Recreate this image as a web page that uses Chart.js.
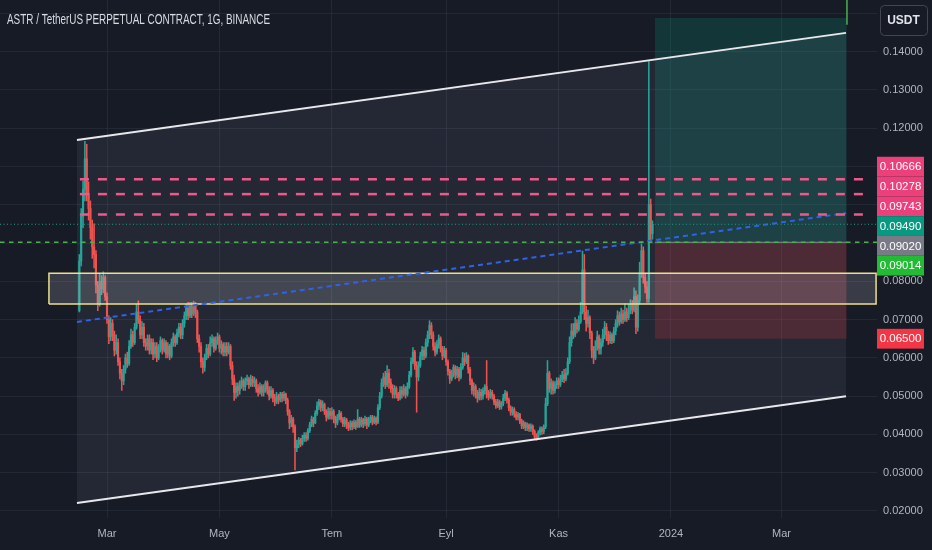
<!DOCTYPE html>
<html>
<head>
<meta charset="utf-8">
<script src="https://cdn.jsdelivr.net/npm/chart.js@4.4.0/dist/chart.umd.min.js"></script>
<style>
html,body{margin:0;padding:0;background:#171b26;overflow:hidden;}
#wrap{width:932px;height:550px;position:relative;}
</style>
</head>
<body>
<div id="wrap"><canvas id="c" width="932" height="550"></canvas></div>
<script>
// ---------------- DATA ----------------
const chartTitle = 'ASTR / TetherUS PERPETUAL CONTRACT, 1G, BINANCE';
const quoteLabel = 'USDT';
// daily candles, day 0 = 1 Mar 2023
const firstDay = -15;
const firstOpen = 0.0723;
const closes = [
 .0853,.0970,.1040,.1120,.1030,.0990,.0940,.0890,.0870,.0790,
 .0740,.0800,.0780,.0810,.0760,.0700,.0655,.0690,.0660,.0620,
 .0640,.0590,.0560,.0540,.0570,.0600,.0585,.0630,.0660,.0640,
 .0680,.0720,.0700,.0660,.0680,.0640,.0630,.0650,.0620,.0640,
 .0610,.0630,.0600,.0625,.0645,.0620,.0640,.0610,.0630,.0605,
 .0640,.0655,.0640,.0665,.0680,.0660,.0690,.0710,.0730,.0710,
 .0735,.0715,.0735,.0720,.0650,.0630,.0590,.0575,.0600,.0625,
 .0610,.0640,.0650,.0625,.0645,.0655,.0625,.0635,.0615,.0630,
 .0615,.0630,.0580,.0545,.0510,.0525,.0515,.0530,.0540,.0525,
 .0540,.0545,.0530,.0545,.0535,.0540,.0520,.0510,.0525,.0510,
 .0520,.0535,.0515,.0500,.0515,.0495,.0485,.0500,.0490,.0505,
 .0495,.0505,.0490,.0460,.0430,.0440,.0420,.0365,.0375,.0385,
 .0375,.0390,.0398,.0390,.0410,.0425,.0440,.0430,.0455,.0475,
 .0485,.0470,.0478,.0460,.0445,.0460,.0450,.0460,.0440,.0430,
 .0445,.0455,.0440,.0428,.0438,.0425,.0418,.0430,.0420,.0432,
 .0420,.0440,.0425,.0438,.0428,.0440,.0425,.0438,.0445,.0432,
 .0442,.0432,.0470,.0500,.0535,.0550,.0530,.0560,.0535,.0520,
 .0505,.0520,.0505,.0495,.0515,.0505,.0520,.0505,.0525,.0555,
 .0590,.0615,.0580,.0550,.0580,.0605,.0620,.0605,.0640,.0660,
 .0685,.0660,.0630,.0615,.0635,.0650,.0625,.0605,.0620,.0590,
 .0565,.0545,.0560,.0575,.0555,.0570,.0550,.0575,.0600,.0590,
 .0605,.0570,.0540,.0515,.0525,.0505,.0495,.0510,.0500,.0515,
 .0525,.0505,.0498,.0510,.0500,.0485,.0475,.0485,.0472,.0480,
 .0495,.0508,.0490,.0470,.0458,.0465,.0452,.0445,.0452,.0435,
 .0422,.0430,.0418,.0425,.0415,.0422,.0408,.0395,.0392,.0405,
 .0415,.0408,.0420,.0480,.0560,.0520,.0535,.0515,.0530,.0540,
 .0530,.0545,.0555,.0545,.0560,.0590,.0640,.0670,.0660,.0690,
 .0675,.0695,.0720,.0830,.0720,.0690,.0705,.0665,.0620,.0600,
 .0630,.0655,.0625,.0640,.0660,.0680,.0660,.0645,.0660,.0645,
 .0670,.0690,.0710,.0695,.0715,.0700,.0720,.0705,.0725,.0740,
 .0725,.0760,.0680,.0750,.0820,.0880,.0810,.0785,.0755,.1000,
 .0925,.0949
];
const highs = [
 .0870,.0990,.1062,.1166,.1158,.1060,.1010,.0960,.0950,.0880,
 .0800,.0820,.0815,.0825,.0815,.0770,.0710,.0705,.0700,.0670,
 .0660,.0650,.0600,.0570,.0580,.0610,.0615,.0645,.0675,.0670,
 .0690,.0740,.0749,.0710,.0695,.0690,.0650,.0660,.0660,.0650,
 .0650,.0640,.0640,.0635,.0655,.0650,.0650,.0645,.0640,.0635,
 .0650,.0665,.0660,.0675,.0690,.0690,.0700,.0720,.0741,.0745,
 .0745,.0745,.0748,.0745,.0725,.0660,.0640,.0600,.0610,.0635,
 .0635,.0655,.0660,.0655,.0655,.0665,.0660,.0645,.0640,.0640,
 .0640,.0640,.0635,.0590,.0555,.0535,.0535,.0540,.0550,.0545,
 .0548,.0555,.0550,.0555,.0552,.0550,.0545,.0530,.0535,.0530,
 .0530,.0540,.0540,.0525,.0525,.0520,.0505,.0510,.0505,.0510,
 .0510,.0512,.0508,.0495,.0465,.0450,.0445,.0425,.0385,.0392,
 .0390,.0398,.0405,.0405,.0415,.0432,.0448,.0445,.0462,.0485,
 .0492,.0490,.0488,.0482,.0465,.0470,.0468,.0470,.0465,.0448,
 .0452,.0463,.0460,.0445,.0445,.0442,.0432,.0436,.0435,.0438,
 .0436,.0465,.0445,.0445,.0442,.0448,.0445,.0445,.0450,.0450,
 .0448,.0446,.0478,.0510,.0545,.0560,.0565,.0580,.0570,.0545,
 .0530,.0528,.0525,.0510,.0525,.0525,.0530,.0525,.0535,.0565,
 .0600,.0627,.0620,.0590,.0590,.0615,.0630,.0628,.0650,.0670,
 .0697,.0692,.0668,.0640,.0645,.0660,.0655,.0630,.0630,.0625,
 .0595,.0570,.0568,.0582,.0580,.0578,.0575,.0585,.0614,.0612,
 .0614,.0608,.0575,.0545,.0535,.0530,.0515,.0520,.0518,.0522,
 .0530,.0593,.0515,.0518,.0515,.0505,.0492,.0492,.0490,.0486,
 .0505,.0515,.0512,.0495,.0475,.0472,.0470,.0460,.0458,.0455,
 .0440,.0436,.0432,.0430,.0428,.0428,.0425,.0412,.0402,.0410,
 .0420,.0420,.0425,.0495,.0593,.0565,.0545,.0540,.0538,.0548,
 .0548,.0555,.0565,.0570,.0572,.0600,.0655,.0689,.0690,.0705,
 .0700,.0710,.0745,.0879,.0870,.0735,.0725,.0710,.0670,.0630,
 .0645,.0670,.0660,.0650,.0675,.0695,.0690,.0670,.0668,.0665,
 .0680,.0700,.0723,.0720,.0730,.0725,.0741,.0730,.0740,.0752,
 .0750,.0783,.0775,.0765,.0850,.0898,.0890,.0820,.0800,.1374,
 .1015,.0958
];
const lows = [
 .0720,.0840,.0940,.1010,.1010,.0960,.0910,.0860,.0835,.0770,
 .0723,.0735,.0765,.0770,.0750,.0690,.0637,.0645,.0645,.0605,
 .0610,.0580,.0545,.0515,.0530,.0560,.0575,.0580,.0625,.0630,
 .0635,.0675,.0690,.0650,.0650,.0630,.0620,.0620,.0610,.0610,
 .0595,.0600,.0590,.0595,.0615,.0610,.0615,.0600,.0600,.0595,
 .0600,.0630,.0630,.0635,.0655,.0650,.0650,.0680,.0700,.0700,
 .0705,.0705,.0710,.0705,.0640,.0615,.0575,.0560,.0565,.0595,
 .0600,.0605,.0630,.0615,.0620,.0635,.0615,.0610,.0605,.0605,
 .0605,.0610,.0570,.0530,.0489,.0495,.0500,.0505,.0520,.0515,
 .0515,.0530,.0520,.0525,.0525,.0525,.0510,.0500,.0505,.0500,
 .0500,.0510,.0505,.0490,.0495,.0485,.0475,.0480,.0480,.0485,
 .0485,.0488,.0480,.0450,.0415,.0420,.0405,.0307,.0355,.0365,
 .0368,.0372,.0382,.0382,.0385,.0405,.0420,.0420,.0428,.0450,
 .0465,.0460,.0462,.0452,.0435,.0440,.0440,.0440,.0430,.0418,
 .0425,.0438,.0432,.0420,.0420,.0415,.0410,.0412,.0412,.0415,
 .0413,.0418,.0418,.0420,.0418,.0422,.0415,.0420,.0430,.0425,
 .0428,.0425,.0428,.0465,.0495,.0525,.0520,.0525,.0520,.0510,
 .0495,.0495,.0495,.0488,.0490,.0495,.0500,.0495,.0500,.0520,
 .0550,.0585,.0570,.0458,.0540,.0575,.0595,.0595,.0600,.0630,
 .0650,.0650,.0620,.0605,.0610,.0625,.0615,.0595,.0600,.0580,
 .0555,.0533,.0540,.0550,.0545,.0548,.0540,.0545,.0570,.0580,
 .0585,.0560,.0530,.0505,.0500,.0495,.0484,.0490,.0490,.0492,
 .0505,.0495,.0490,.0494,.0492,.0478,.0468,.0470,.0465,.0466,
 .0475,.0488,.0482,.0462,.0450,.0450,.0445,.0438,.0438,.0428,
 .0415,.0415,.0410,.0410,.0408,.0408,.0400,.0388,.0385,.0388,
 .0398,.0400,.0402,.0415,.0475,.0510,.0505,.0505,.0508,.0520,
 .0520,.0525,.0538,.0535,.0540,.0555,.0585,.0630,.0650,.0655,
 .0665,.0670,.0690,.0715,.0700,.0670,.0680,.0650,.0600,.0585,
 .0595,.0620,.0610,.0610,.0630,.0650,.0645,.0635,.0638,.0637,
 .0640,.0660,.0680,.0685,.0690,.0690,.0695,.0695,.0700,.0715,
 .0715,.0720,.0663,.0670,.0740,.0810,.0795,.0770,.0745,.0745,
 .0905,.0910
];

// axis ticks
const monthTicks  = [0, 61, 122, 184, 245, 306, 366];
const monthLabels = ['Mar', 'May', 'Tem', 'Eyl', 'Kas', '2024', 'Mar'];
const priceTicks  = [0.02, 0.03, 0.04, 0.05, 0.06, 0.07, 0.08, 0.09, 0.10, 0.11, 0.12, 0.13, 0.14, 0.15];
const dayRange    = [-58.06, 417.8];
const priceRange  = [0.01817, 0.15349];

// drawings (day, price)
const channelDays   = [-16.3, 401.0];
const channelTop    = [0.1169, 0.1449];
const channelBottom = [0.0221, 0.0500];
const trendDays     = [-16.3, 401.0];
const trendPrices   = [0.0694, 0.0978];
const zoneDays      = [-31.5, 417.3];
const zonePrices    = [0.0741, 0.0821];
const levelDays     = [-14.7, 412.4];
const pinkLevels    = [0.10666, 0.10278, 0.09743];
const lastPrice     = 0.0949;
const entryPrice    = 0.0902;
const positionDays  = [297.3, 401.3];
const targetPrice   = 0.1488;
const stopPrice     = 0.0650;
const markerDay     = 401.5;
const markerPrices  = [0.1470, 0.1540];

// price-axis tags
const tagValues = [0.10666, 0.10278, 0.09743, 0.09490, 0.09020, 0.09014, 0.06500];
const tagColors = ['#ec407a', '#ec407a', '#ec407a', '#089981', '#787b86', '#22bb33', '#f23645'];

// ---------------- BUILD ----------------
const UP = '#26a69a', DOWN = '#ef5350';
const FONT = "'Liberation Sans', Arial, sans-serif";
const wickData = [], bodyData = [], candleColors = [];
let prev = firstOpen;
closes.forEach((c, i) => {
  const d = firstDay + i;
  const o = prev;
  wickData.push({x: d, y: [lows[i], highs[i]]});
  bodyData.push({x: d, y: [o, c]});
  candleColors.push(c >= o ? UP : DOWN);
  prev = c;
});

function seg(days, prices) { return days.map((d, i) => ({x: d, y: prices[i]})); }
function rect(days, p0, p1) {
  return [{x: days[0], y: p0}, {x: days[1], y: p0}, {x: days[1], y: p1}, {x: days[0], y: p1}, {x: days[0], y: p0}];
}
function lineDs(data, color, width, dash, extra) {
  return Object.assign({type: 'line', data, borderColor: color, borderWidth: width, borderDash: dash || [],
    pointRadius: 0, tension: 0, fill: false, borderCapStyle: 'butt'}, extra || {});
}

const datasets = [];
pinkLevels.forEach(p => datasets.push(lineDs(seg(levelDays, [p, p]), '#f0588c', 2.5, [9, 9])));
datasets.push(lineDs(seg(dayRange, [lastPrice, lastPrice]), '#1f9e8b', 1, [1, 2.5]));
datasets.push(lineDs(seg(dayRange, [entryPrice, entryPrice]), '#4caf50', 1.5, [4.5, 4.5]));
datasets.push(lineDs(seg(trendDays, trendPrices), '#2f62e8', 2, [5, 4]));
datasets.push(lineDs(seg(channelDays, channelTop), '#e8e8ec', 2));
datasets.push(lineDs(seg(channelDays, channelBottom), '#e8e8ec', 2));
datasets.push(lineDs(seg([markerDay, markerDay], markerPrices), '#4caf50', 1.5));
datasets.push(lineDs(seg(positionDays, [entryPrice, entryPrice]), 'rgba(160,163,172,0.8)', 1));
datasets.push(lineDs(rect(zoneDays, zonePrices[0], zonePrices[1]), '#ece08c', 1.5, [],
  {fill: 'shape', backgroundColor: 'rgba(205,205,210,0.19)'}));
datasets.push({type: 'bar', data: bodyData, backgroundColor: candleColors, barThickness: 1.5,
  grouped: false, minBarLength: 1, borderWidth: 0});
datasets.push({type: 'bar', data: wickData, backgroundColor: candleColors, barThickness: 0.9,
  grouped: false, borderWidth: 0});
datasets.push(lineDs(rect(positionDays, stopPrice, entryPrice), 'rgba(0,0,0,0)', 0, [],
  {fill: 'shape', backgroundColor: 'rgba(242,54,69,0.20)'}));
datasets.push(lineDs(rect(positionDays, entryPrice, targetPrice), 'rgba(0,0,0,0)', 0, [],
  {fill: 'shape', backgroundColor: 'rgba(8,153,129,0.22)'}));
datasets.push(lineDs([{x: channelDays[0], y: channelBottom[0]}, {x: channelDays[1], y: channelBottom[1]},
  {x: channelDays[1], y: channelTop[1]}, {x: channelDays[0], y: channelTop[0]}, {x: channelDays[0], y: channelBottom[0]}],
  'rgba(0,0,0,0)', 0, [], {fill: 'shape', backgroundColor: 'rgba(165,175,195,0.09)'}));

const GRID = 'rgba(70,76,92,0.28)';
const TICK = '#b2b5be';

const decor = {
  id: 'decor',
  beforeDraw(chart) {
    const ctx = chart.ctx;
    ctx.save();
    ctx.fillStyle = '#171b26';
    ctx.fillRect(0, 0, chart.width, chart.height);
    ctx.restore();
  },
  afterDraw(chart) {
    const ctx = chart.ctx;
    const ys = chart.scales.y;
    const area = chart.chartArea;
    // title
    ctx.save();
    ctx.font = '14.5px ' + FONT;
    ctx.fillStyle = '#d8dbe2';
    ctx.textBaseline = 'middle';
    const w = ctx.measureText(chartTitle).width;
    ctx.translate(7, 20);
    ctx.scale(263 / w, 1);
    ctx.fillText(chartTitle, 0, 0);
    ctx.restore();
    // USDT button
    ctx.save();
    ctx.fillStyle = '#171b26';
    ctx.strokeStyle = '#434651';
    ctx.lineWidth = 1;
    ctx.beginPath();
    ctx.roundRect(880.5, 5.5, 47, 30, 4);
    ctx.fill(); ctx.stroke();
    ctx.fillStyle = '#e0e3eb';
    ctx.font = 'bold 12px ' + FONT;
    ctx.textAlign = 'center'; ctx.textBaseline = 'middle';
    ctx.fillText(quoteLabel, 903.5, 21);
    ctx.restore();
    // tags with collision grouping
    const tagH = 19.8;
    const items = tagValues.map((v, i) => ({v, c: tagColors[i], y: ys.getPixelForValue(v)}));
    items.sort((a, b) => a.y - b.y);
    const groups = items.map(it => ({m: [it]}));
    const cen = g => g.m.reduce((s, it) => s + it.y, 0) / g.m.length;
    let merged = true;
    while (merged) {
      merged = false;
      for (let i = 0; i < groups.length - 1; i++) {
        const a = groups[i], b = groups[i + 1];
        if (cen(a) + a.m.length * tagH / 2 > cen(b) - b.m.length * tagH / 2) {
          a.m = a.m.concat(b.m); groups.splice(i + 1, 1); merged = true; break;
        }
      }
    }
    ctx.save();
    ctx.font = '11.5px ' + FONT;
    ctx.textAlign = 'center'; ctx.textBaseline = 'middle';
    groups.forEach(g => {
      const top = cen(g) - g.m.length * tagH / 2;
      g.m.forEach((it, k) => {
        const y0 = top + k * tagH;
        ctx.fillStyle = it.c;
        ctx.fillRect(area.right, y0, 47, tagH);
        ctx.fillStyle = '#ffffff';
        ctx.fillText(it.v.toFixed(5), area.right + 23.5, y0 + tagH / 2 + 0.5);
      });
    });
    ctx.restore();
  }
};

new Chart(document.getElementById('c'), {
  type: 'bar',
  data: {datasets},
  options: {
    responsive: false,
    animation: false,
    devicePixelRatio: 1,
    layout: {padding: 0},
    plugins: {legend: {display: false}, tooltip: {enabled: false}},
    events: [],
    scales: {
      x: {
        type: 'linear', min: dayRange[0], max: dayRange[1], offset: false,
        afterBuildTicks: s => { s.ticks = monthTicks.map(v => ({value: v})); },
        afterFit: s => { s.height = 32; s.paddingLeft = 0; s.paddingRight = 0; },
        ticks: {callback: (v, i) => monthLabels[i], color: TICK, font: {size: 11, family: FONT},
          padding: 9, maxRotation: 0, autoSkip: false},
        grid: {color: GRID, drawTicks: false, offset: false},
        border: {display: false}
      },
      y: {
        type: 'linear', position: 'right', min: priceRange[0], max: priceRange[1],
        afterBuildTicks: s => { s.ticks = priceTicks.map(v => ({value: v})); },
        afterFit: s => { s.width = 55; s.paddingTop = 0; s.paddingBottom = 0; },
        ticks: {callback: v => Number(v).toFixed(5), color: TICK, font: {size: 11, family: FONT}, padding: 6},
        grid: {color: GRID, drawTicks: false},
        border: {display: false}
      }
    }
  },
  plugins: [decor]
});
</script>
</body>
</html>
